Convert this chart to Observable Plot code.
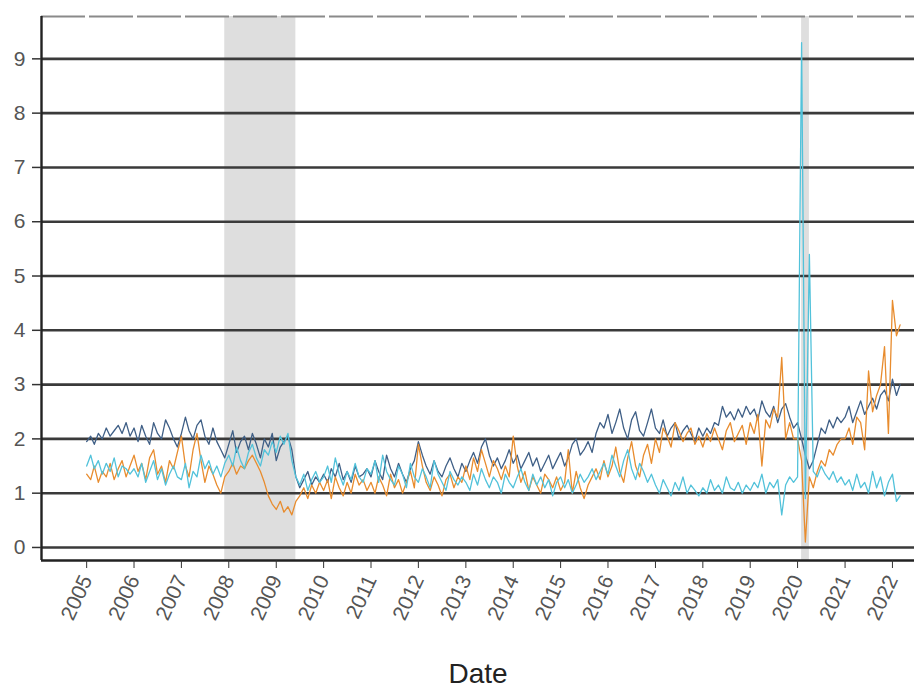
<!DOCTYPE html>
<html>
<head>
<meta charset="utf-8">
<script src="https://cdn.jsdelivr.net/npm/d3@7"></script>
<script src="https://cdn.jsdelivr.net/npm/@observablehq/plot@0.6"></script>
<style>
  html, body { margin: 0; padding: 0; background: #fff; }
  #chart svg { display: block; }
</style>
</head>
<body>
<div id="chart"></div>
<script>
// ---- data (monthly, Jan 2005 .. Mar 2022) ----
const startMonth = "2005-01-01";

const seriesBlue = [
  1.95,2.05,1.9,2.1,2.0,2.2,2.05,2.15,2.25,2.1,2.3,2.05,
  2.2,1.95,2.25,2.05,1.9,2.3,2.1,2.0,2.35,2.2,2.0,1.85,
  2.1,2.4,2.15,2.0,2.25,2.35,2.05,1.9,2.2,1.95,1.8,1.65,
  1.9,2.15,1.75,1.95,2.05,1.8,2.1,1.9,1.65,2.0,1.85,2.1,
  1.6,1.85,1.95,2.05,1.8,1.3,1.1,1.25,1.4,1.15,1.3,1.2,
  1.35,1.2,1.45,1.3,1.55,1.25,1.4,1.2,1.5,1.3,1.35,1.45,
  1.3,1.6,1.4,1.25,1.7,1.45,1.3,1.55,1.35,1.2,1.45,1.6,
  1.95,1.7,1.5,1.35,1.6,1.4,1.3,1.5,1.65,1.45,1.3,1.55,
  1.4,1.6,1.75,1.55,1.85,2.0,1.7,1.5,1.65,1.45,1.6,1.8,
  1.55,1.7,1.45,1.6,1.75,1.5,1.65,1.4,1.55,1.7,1.45,1.6,
  1.75,1.5,1.65,1.9,2.0,1.7,1.8,1.95,1.75,2.1,2.3,2.2,
  2.45,2.1,2.3,2.55,2.2,2.0,2.35,2.5,2.15,2.05,2.3,2.55,
  2.2,2.1,2.35,2.05,2.2,2.3,2.0,2.15,2.25,2.1,1.95,2.2,
  2.05,2.2,2.1,2.3,2.25,2.6,2.4,2.5,2.35,2.55,2.4,2.6,
  2.45,2.55,2.35,2.7,2.5,2.4,2.6,2.3,2.55,2.65,2.4,2.2,
  2.3,2.0,1.7,1.45,1.6,1.9,2.2,2.1,2.35,2.2,2.4,2.3,
  2.4,2.6,2.3,2.5,2.7,2.45,2.6,2.75,2.55,2.8,2.9,2.7,
  3.1,2.8,3.0
];

const seriesOrange = [
  1.35,1.25,1.5,1.2,1.4,1.3,1.55,1.25,1.45,1.6,1.3,1.5,
  1.7,1.4,1.55,1.25,1.65,1.8,1.35,1.5,1.2,1.6,1.45,1.75,
  2.05,1.5,1.3,1.8,2.1,1.6,1.2,1.5,1.35,1.15,1.0,1.3,
  1.4,1.55,1.35,1.5,1.45,1.6,1.7,1.55,1.4,1.2,0.95,0.8,
  0.7,0.85,0.65,0.75,0.6,0.85,0.95,1.1,0.9,1.15,1.0,1.2,
  1.05,1.25,0.9,1.3,1.1,0.95,1.2,1.0,1.35,1.15,1.25,1.05,
  1.2,1.0,1.3,1.15,0.95,1.35,1.1,1.25,1.0,1.2,1.4,1.1,
  1.9,1.5,1.2,1.05,1.3,1.15,0.95,1.25,1.35,1.1,1.3,1.2,
  1.5,1.25,1.65,1.4,1.8,1.55,1.3,1.6,1.45,1.25,1.5,1.3,
  2.05,1.5,1.2,1.4,1.05,1.3,1.15,1.0,1.35,1.25,1.1,1.3,
  1.05,1.2,1.8,1.0,1.4,1.1,0.9,1.15,1.3,1.45,1.25,1.6,
  1.3,1.5,1.85,1.4,1.2,1.65,1.95,1.5,1.3,1.7,1.9,1.55,
  2.0,1.75,2.2,2.05,1.85,2.3,2.15,1.95,2.1,2.2,1.9,2.05,
  1.85,2.1,1.95,2.2,2.0,1.8,2.15,2.3,1.95,2.1,2.25,1.9,
  2.3,2.1,2.45,1.5,2.35,2.2,2.55,2.4,3.5,2.0,2.3,2.0,
  2.0,1.6,0.1,1.3,1.1,1.4,1.6,1.5,1.8,1.7,1.9,2.0,
  2.0,2.2,1.9,2.4,2.3,1.8,3.25,2.5,2.8,3.0,3.7,2.1,
  4.55,3.9,4.1
];

const seriesCyan = [
  1.5,1.7,1.45,1.6,1.35,1.55,1.4,1.65,1.3,1.5,1.45,1.35,
  1.45,1.3,1.55,1.2,1.4,1.6,1.25,1.45,1.15,1.35,1.5,1.3,
  1.25,1.55,1.1,1.4,1.3,1.7,1.45,1.6,1.35,1.5,1.3,1.55,
  1.7,1.5,1.85,1.6,1.45,1.75,1.9,1.65,1.5,1.8,1.7,1.95,
  1.75,2.05,1.9,2.1,1.6,1.3,1.15,1.35,1.05,1.25,1.4,1.2,
  1.3,1.5,1.2,1.65,1.35,1.15,1.4,1.25,1.55,1.3,1.2,1.45,
  1.35,1.6,1.2,1.7,1.4,1.25,1.15,1.5,1.35,1.1,1.55,1.3,
  1.2,1.45,1.3,1.1,1.6,1.35,1.2,1.05,1.4,1.25,1.15,1.3,
  1.2,1.05,1.35,1.15,1.45,1.25,1.1,1.3,1.2,1.0,1.35,1.2,
  1.1,1.3,1.45,1.2,1.05,1.35,1.15,1.3,1.1,1.25,0.95,1.2,
  1.3,1.1,1.25,1.0,1.15,1.35,1.2,1.3,1.45,1.25,1.4,1.55,
  1.35,1.7,1.5,1.3,1.6,1.8,1.45,1.25,1.55,1.4,1.2,1.35,
  1.15,1.0,1.25,1.1,0.95,1.2,1.05,1.3,1.0,1.15,1.05,0.95,
  1.1,1.0,1.25,1.05,1.15,1.0,1.3,1.1,1.05,1.2,1.0,1.15,
  1.05,1.2,1.1,1.35,1.0,1.2,1.1,1.25,0.6,1.15,1.3,1.2,
  1.3,9.3,0.9,5.4,1.4,1.3,1.5,1.35,1.25,1.4,1.2,1.3,
  1.15,1.25,1.05,1.35,1.1,1.2,1.0,1.4,1.1,1.3,0.95,1.2,
  1.35,0.85,0.95
];

const recessionStarts = ["2007-12-01", "2020-02-01"];
const recessionEnds   = ["2009-06-01", "2020-04-01"];

const yTickValues = [0,1,2,3,4,5,6,7,8,9];
const xTickYears = d3.range(2005, 2023);
const xLabel = "Date";

// ---- build tables ----
const t0 = new Date(startMonth);
const mk = (arr, name) => arr.map((v, i) => ({date: d3.utcMonth.offset(t0, i), value: v, series: name}));
const blue = mk(seriesBlue, "blue");
const orange = mk(seriesOrange, "orange");
const cyan = mk(seriesCyan, "cyan");
const recessions = recessionStarts.map((s, i) => ({start: new Date(s), end: new Date(recessionEnds[i])}));
const xTicks = xTickYears.map(y => new Date(Date.UTC(y, 0, 1)));

const yMin = -0.24, yMax = 9.78;
const xMin = new Date(Date.UTC(2004, 0, 19));
const xMax = new Date(Date.UTC(2022, 5, 20));

const chart = Plot.plot({
  width: 914,
  height: 692,
  marginLeft: 41,
  marginRight: 0,
  marginTop: 16,
  marginBottom: 132,
  style: {fontFamily: "'Liberation Sans', Arial, sans-serif", background: "#fff"},
  x: {type: "utc", domain: [xMin, xMax]},
  y: {domain: [yMin, yMax]},
  marks: [
    Plot.rect(recessions, {x1: "start", x2: "end", fill: "#dedede"}),
    Plot.ruleY(yTickValues, {stroke: "#3a3a3a", strokeWidth: 2.6}),
    Plot.ruleY([yMax], {stroke: "#8a8a8a", strokeWidth: 2, strokeDasharray: "44,4"}),
    Plot.line(blue, {x: "date", y: "value", stroke: "#3f5f86", strokeWidth: 1.3}),
    Plot.line(orange, {x: "date", y: "value", stroke: "#e88c2e", strokeWidth: 1.3}),
    Plot.line(cyan, {x: "date", y: "value", stroke: "#52c2da", strokeWidth: 1.3}),
    Plot.ruleX([xMin], {stroke: "#222", strokeWidth: 2.4}),
    Plot.ruleY([yMin], {stroke: "#222", strokeWidth: 2.4}),
    Plot.axisY({ticks: yTickValues, tickSize: 9, tickPadding: 7, fontSize: 21, color: "#555", stroke: "#333", strokeWidth: 1.5, label: null}),
    Plot.axisX({ticks: xTicks, tickFormat: d3.utcFormat("%Y"), tickSize: 8, tickPadding: 8, tickRotate: -65, fontSize: 21, color: "#555", stroke: "#333", label: null}),
    Plot.text([xLabel], {frameAnchor: "bottom", dy: 122, fontSize: 28, fill: "#222", lineAnchor: "bottom"})
  ]
});
document.getElementById("chart").appendChild(chart);
</script>
</body>
</html>
